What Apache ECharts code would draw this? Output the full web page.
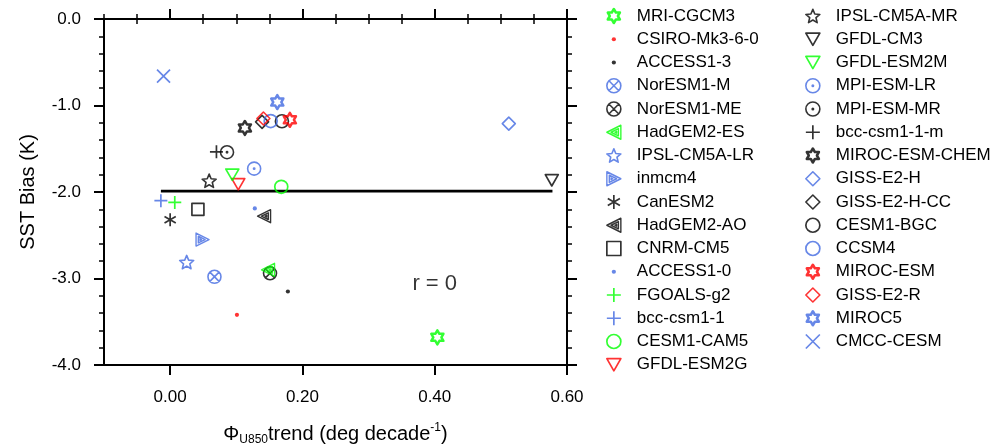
<!DOCTYPE html>
<html><head><meta charset="utf-8">
<script src="https://cdn.jsdelivr.net/npm/echarts@6/dist/echarts.min.js"></script>
<style>html,body{margin:0;padding:0;background:#fff}#c{width:1005px;height:448px}</style>
</head><body><div id="c"></div><script>
// ---- data ----
const modelNames = ['MRI-CGCM3','CSIRO-Mk3-6-0','ACCESS1-3','NorESM1-M','NorESM1-ME','HadGEM2-ES','IPSL-CM5A-LR','inmcm4','CanESM2','HadGEM2-AO','CNRM-CM5','ACCESS1-0','FGOALS-g2','bcc-csm1-1','CESM1-CAM5','GFDL-ESM2G','IPSL-CM5A-MR','GFDL-CM3','GFDL-ESM2M','MPI-ESM-LR','MPI-ESM-MR','bcc-csm1-1-m','MIROC-ESM-CHEM','GISS-E2-H','GISS-E2-H-CC','CESM1-BGC','CCSM4','MIROC-ESM','GISS-E2-R','MIROC5','CMCC-CESM'];
const u850Trend = [0.404, 0.101, 0.178, 0.067, 0.151, 0.148, 0.025, 0.049, 0.000, 0.142, 0.042, 0.128, 0.007, -0.014, 0.168, 0.103, 0.059, 0.577, 0.094, 0.127, 0.086, 0.070, 0.113, 0.512, 0.139, 0.169, 0.152, 0.181, 0.141, 0.162, -0.010];
const sstBias = [-3.68, -3.42, -3.15, -2.98, -2.94, -2.90, -2.81, -2.55, -2.32, -2.28, -2.20, -2.19, -2.12, -2.10, -1.94, -1.91, -1.87, -1.865, -1.80, -1.73, -1.54, -1.535, -1.26, -1.21, -1.19, -1.182, -1.18, -1.165, -1.15, -0.96, -0.66];
const fitX = [-0.014, 0.578];
const fitY = [-1.99, -1.99];
const corrText = 'r = 0';
const corrPos = [0.40, -3.065];
const xMajorTicks = [0, 0.2, 0.4, 0.6];
const xMinorTicks = [-0.1, -0.05, 0.05, 0.1, 0.15, 0.25, 0.3, 0.35, 0.45, 0.5, 0.55];

// ---- styles ----
const BLUE = '#4169e1', GREEN = '#00ff00', RED = '#ff0000', BLACK = '#000000';
const SYM = {
  hexagram: 'path://M0,-10L2.887,-5L8.66,-5L5.77,0L8.66,5L2.887,5L0,10L-2.887,5L-8.66,5L-5.77,0L-8.66,-5L-2.887,-5Z',
  dot: 'path://M-10,-10M10,10M-3,0A3,3,0,1,0,3,0A3,3,0,1,0,-3,0Z',
  circle: 'path://M-10,0A10,10,0,1,0,10,0A10,10,0,1,0,-10,0Z',
  circleX: 'path://M-10,0A10,10,0,1,0,10,0A10,10,0,1,0,-10,0ZM-7.07,-7.07L7.07,7.07M-7.07,7.07L7.07,-7.07',
  circleDot: 'path://M-10,0A10,10,0,1,0,10,0A10,10,0,1,0,-10,0ZM-1,0A1,1,0,1,0,1,0A1,1,0,1,0,-1,0Z',
  triL: 'path://M-10,0L10,-10L10,10ZM-4,0L6.5,-5.2L6.5,5.2ZM1.5,0L4,-1.4L4,1.4Z',
  triR: 'path://M10,0L-10,-10L-10,10ZM4,0L-6.5,-5.2L-6.5,5.2ZM-1.5,0L-4,-1.4L-4,1.4Z',
  triD: 'path://M-10,-8.66L10,-8.66L0,8.66Z',
  star5: 'path://M0,-10L2.645,-3.64L9.51,-3.09L4.28,1.39L5.88,8.09L0,4.5L-5.88,8.09L-4.28,1.39L-9.51,-3.09L-2.645,-3.64Z',
  aster: 'path://M0,-10L0,10M-8.66,-5L8.66,5M-8.66,5L8.66,-5',
  square: 'path://M-10,-10L10,-10L10,10L-10,10Z',
  diamond: 'path://M0,-10L10,0L0,10L-10,0Z',
  plus: 'path://M-10,0L10,0M0,-10L0,10',
  cross: 'path://M-10,-10L10,10M-10,10L10,-10'
};
const modelStyle = [
  ['hexagram', GREEN, 14, 2.5], ['dot', RED, 14, 0], ['dot', BLACK, 14, 0],
  ['circleX', BLUE, 13, 1.6], ['circleX', BLACK, 13, 1.6], ['triL', GREEN, 13, 1.4],
  ['star5', BLUE, 14, 1.6], ['triR', BLUE, 13, 1.4], ['aster', BLACK, 13, 1.7],
  ['triL', BLACK, 13, 1.4], ['square', BLACK, 12, 1.7], ['dot', BLUE, 14, 0],
  ['plus', GREEN, 13, 1.7], ['plus', BLUE, 13, 1.7], ['circle', GREEN, 13, 1.7],
  ['triD', RED, 13, 1.7], ['star5', BLACK, 14, 1.6], ['triD', BLACK, 13, 1.7],
  ['triD', GREEN, 13, 1.7], ['circleDot', BLUE, 13, 1.6], ['circleDot', BLACK, 13, 1.6],
  ['plus', BLACK, 13, 1.7], ['hexagram', BLACK, 14, 2.5], ['diamond', BLUE, 13, 1.6],
  ['diamond', BLACK, 13, 1.6], ['circle', BLACK, 13, 1.7], ['circle', BLUE, 13, 1.7],
  ['hexagram', RED, 14, 2.5], ['diamond', RED, 13, 1.6], ['hexagram', BLUE, 14, 2.5],
  ['cross', BLUE, 13, 1.7]
];

const FONT = 'Liberation Sans, Arial, Helvetica, sans-serif';

function itemStyleFor(st) {
  if (st[0] === 'dot') return { color: st[1], borderWidth: 0 };
  return { color: 'rgba(0,0,0,0)', borderColor: st[1], borderWidth: st[3], borderJoin: 'round' };
}

const series = [{
  type: 'line', name: 'fit', data: fitX.map((x, i) => [x, fitY[i]]),
  showSymbol: false, symbol: 'none', lineStyle: { color: '#000', width: 2.6 }, silent: true, z: 1
}];
modelNames.forEach((n, i) => {
  const st = modelStyle[i];
  series.push({
    type: 'scatter', name: n, data: [[u850Trend[i], sstBias[i]]],
    symbol: SYM[st[0]], symbolSize: st[2], symbolKeepAspect: true,
    itemStyle: itemStyleFor(st), z: 2 + i, emphasis: { disabled: true }
  });
});
series.push({
  type: 'scatter', name: 'corr', data: [corrPos], symbolSize: 0, silent: true,
  label: { show: true, position: 'inside', formatter: corrText, fontSize: 22, color: '#000', fontFamily: FONT }
});

function legendData(names, offset) {
  return names.map((n, k) => {
    const st = modelStyle[offset + k];
    return { name: n, itemStyle: itemStyleFor(st) };
  });
}
const legendCommon = {
  orient: 'vertical', itemWidth: 14, itemHeight: 14, itemGap: 6.25, padding: 0, top: 7.5,
  selectedMode: false,
  textStyle: { fontSize: 17, lineHeight: 17, color: '#000', fontFamily: FONT, padding: [0, 0, 0, 11] }
};

const axisLineStyle = { color: '#000', width: 2 };
const option = {
  animation: false,
  backgroundColor: '#fff',
  textStyle: { fontFamily: FONT },
  grid: { left: 104, right: 438, top: 19, bottom: 83, containLabel: false, outerBoundsMode: 'none' },
  legend: [
    Object.assign({}, legendCommon, { left: 606, data: legendData(modelNames.slice(0, 16), 0) }),
    Object.assign({}, legendCommon, { left: 805, data: legendData(modelNames.slice(16), 16) })
  ],
  xAxis: [
    {
      type: 'value', min: -0.1, max: 0.6, position: 'bottom',
      axisLine: { onZero: false, lineStyle: axisLineStyle },
      axisTick: { customValues: xMajorTicks, length: 10, lineStyle: { color: '#000', width: 2 } },
      axisLabel: { customValues: xMajorTicks, formatter: v => v.toFixed(2), fontSize: 17, color: '#000', margin: 24, fontFamily: FONT },
      splitLine: { show: false },
      name: '{n|Φ}{sub|U850}{n|trend (deg decade}{sup|-1}{n|)}',
      nameLocation: 'middle', nameGap: 57,
      nameTextStyle: {
        rich: {
          n: { fontSize: 20, lineHeight: 24, color: '#000', fontFamily: FONT },
          sub: { fontSize: 12, lineHeight: 12, verticalAlign: 'bottom', color: '#000', fontFamily: FONT },
          sup: { fontSize: 12, lineHeight: 12, verticalAlign: 'top', color: '#000', fontFamily: FONT }
        }
      }
    },
    {
      type: 'value', min: -0.1, max: 0.6, position: 'bottom',
      axisLine: { show: false },
      axisTick: { customValues: xMinorTicks, length: 5, lineStyle: { color: '#000', width: 1.5 } },
      axisLabel: { show: false }, splitLine: { show: false }
    },
    {
      type: 'value', min: -0.1, max: 0.6, position: 'top',
      axisLine: { onZero: false, lineStyle: axisLineStyle },
      axisTick: { customValues: xMajorTicks, length: 10, lineStyle: { color: '#000', width: 2 } },
      axisLabel: { show: false }, splitLine: { show: false }
    },
    {
      type: 'value', min: -0.1, max: 0.6, position: 'top',
      axisLine: { show: false },
      axisTick: { customValues: xMinorTicks, length: 5, lineStyle: { color: '#000', width: 1.5 } },
      axisLabel: { show: false }, splitLine: { show: false }
    }
  ],
  yAxis: [
    {
      type: 'value', min: -4, max: 0, interval: 1, position: 'left',
      axisLine: { onZero: false, lineStyle: axisLineStyle },
      axisTick: { length: 10, lineStyle: { color: '#000', width: 2 } },
      minorTick: { show: true, splitNumber: 5, length: 5, lineStyle: { color: '#000', width: 1.5 } },
      axisLabel: { formatter: v => v.toFixed(1), fontSize: 17, color: '#000', margin: 23, fontFamily: FONT },
      splitLine: { show: false }, minorSplitLine: { show: false },
      name: 'SST Bias (K)', nameLocation: 'middle', nameGap: 66,
      nameTextStyle: { fontSize: 20, color: '#000', fontFamily: FONT }
    },
    {
      type: 'value', min: -4, max: 0, interval: 1, position: 'right',
      axisLine: { onZero: false, lineStyle: axisLineStyle },
      axisTick: { length: 10, lineStyle: { color: '#000', width: 2 } },
      minorTick: { show: true, splitNumber: 5, length: 5, lineStyle: { color: '#000', width: 1.5 } },
      axisLabel: { show: false }, splitLine: { show: false }, minorSplitLine: { show: false }
    }
  ],
  series: series
};
const chart = echarts.init(document.getElementById('c'), null, { renderer: 'canvas' });
chart.setOption(option);
</script></body></html>
